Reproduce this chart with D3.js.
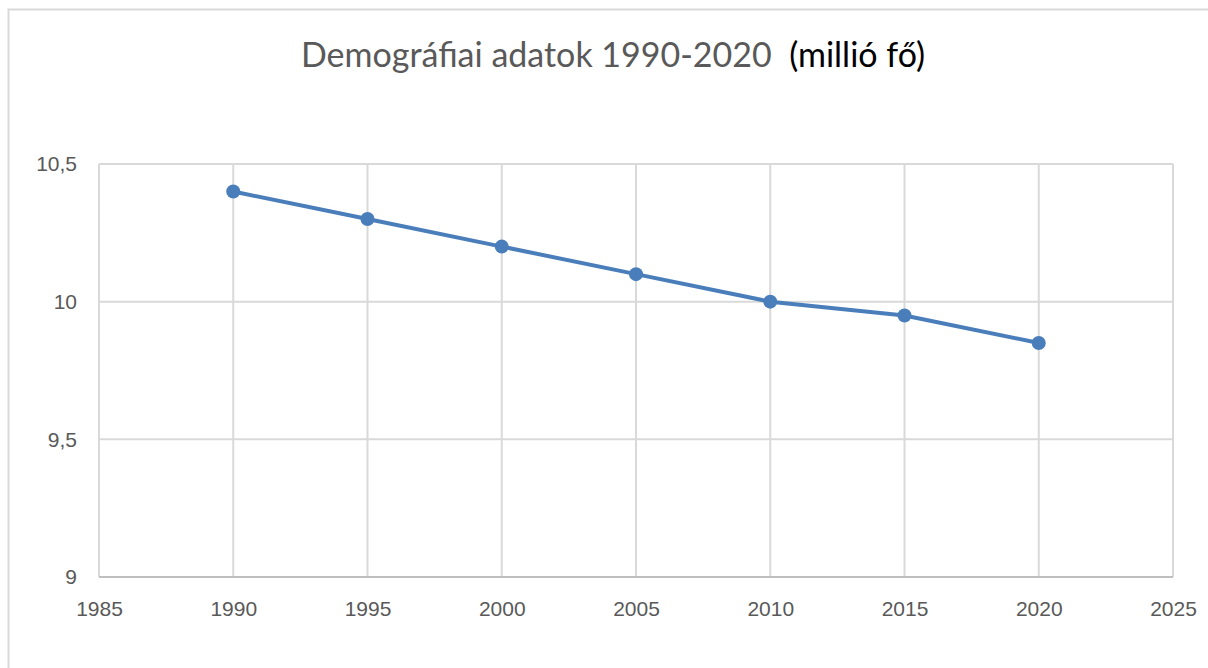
<!DOCTYPE html>
<html lang="hu">
<head>
<meta charset="UTF-8">
<title>Demográfiai adatok</title>
<script src="https://cdn.jsdelivr.net/npm/d3@7"></script>
<style>
  body { margin: 0; background: #fff; }
  svg { display: block; font-family: Lato, "Open Sans", sans-serif; }
  .tick text { fill: #595959; font-size: 21px; }
</style>
</head>
<body>
<script>
// adatok
var years = [1990, 1995, 2000, 2005, 2010, 2015, 2020];
var population = [10.4, 10.3, 10.2, 10.1, 10.0, 9.95, 9.85];
var xTicks = [1985, 1990, 1995, 2000, 2005, 2010, 2015, 2020, 2025];
var yTicks = [9, 9.5, 10, 10.5];

var width = 1208, height = 668;
var margin = {left: 99, right: 35, top: 164, bottom: 91};

var svg = d3.select("body").append("svg")
  .attr("width", width)
  .attr("height", height);

// keret
svg.append("rect")
  .attr("x", 8.5).attr("y", 9.5)
  .attr("width", width).attr("height", height)
  .attr("fill", "none")
  .attr("stroke", "#d9d9d9")
  .attr("stroke-width", 2);

var x = d3.scaleLinear().domain([1985, 2025]).range([margin.left, width - margin.right]);
var y = d3.scaleLinear().domain([9, 10.5]).range([height - margin.bottom, margin.top]);

var fmt = function(d) { return String(d).replace(".", ","); };

// rács
svg.append("g").selectAll("line.v")
  .data(xTicks).enter().append("line")
  .attr("x1", function(d) { return x(d); })
  .attr("x2", function(d) { return x(d); })
  .attr("y1", y(10.5)).attr("y2", y(9))
  .attr("stroke", "#d9d9d9").attr("stroke-width", 2);

svg.append("g").selectAll("line.h")
  .data(yTicks).enter().append("line")
  .attr("x1", x(1985)).attr("x2", x(2025))
  .attr("y1", function(d) { return y(d); })
  .attr("y2", function(d) { return y(d); })
  .attr("stroke", function(d) { return d === 9 ? "#bfbfbf" : "#d9d9d9"; })
  .attr("stroke-width", 2);

// tengelyek
var xAxis = svg.append("g")
  .attr("transform", "translate(0," + y(9) + ")")
  .call(d3.axisBottom(x).tickValues(xTicks).tickFormat(d3.format("d")).tickSize(0).tickPadding(24));
xAxis.select(".domain").remove();

var yAxis = svg.append("g")
  .attr("transform", "translate(" + x(1985) + ",0)")
  .call(d3.axisLeft(y).tickValues(yTicks).tickFormat(fmt).tickSize(0).tickPadding(22));
yAxis.select(".domain").remove();

// vonal
var pts = years.map(function(d, i) { return [d, population[i]]; });

svg.append("path")
  .datum(pts)
  .attr("fill", "none")
  .attr("stroke", "#4a7ebb")
  .attr("stroke-width", 4)
  .attr("stroke-linejoin", "round")
  .attr("d", d3.line().x(function(d) { return x(d[0]); }).y(function(d) { return y(d[1]); }));

svg.append("g").selectAll("circle")
  .data(pts).enter().append("circle")
  .attr("cx", function(d) { return x(d[0]); })
  .attr("cy", function(d) { return y(d[1]); })
  .attr("r", 7)
  .attr("fill", "#4a7ebb");

// cím
var title = svg.append("text")
  .attr("x", 613).attr("y", 67)
  .attr("text-anchor", "middle")
  .style("font-size", "34px");
title.append("tspan").attr("fill", "#595959").text("Demográfiai adatok 1990-2020");
title.append("tspan").attr("fill", "#000").attr("xml:space", "preserve").text("\u00a0 (millió fő)");
</script>
</body>
</html>
